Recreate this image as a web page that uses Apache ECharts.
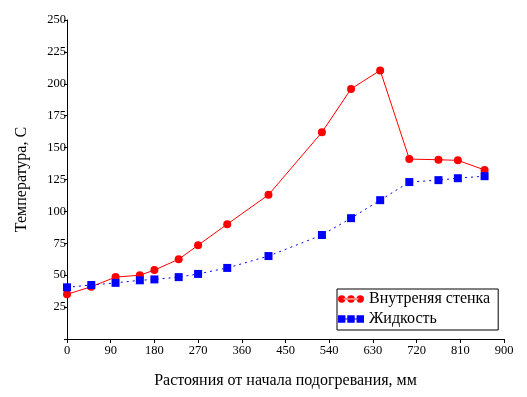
<!DOCTYPE html>
<html>
<head>
<meta charset="utf-8">
<script src="https://cdn.jsdelivr.net/npm/echarts@6/dist/echarts.min.js"></script>
<style>
  html, body { margin: 0; padding: 0; background: #fff; }
  #chart { width: 527px; height: 397px; }
</style>
</head>
<body>
<div id="chart"></div>
<script>
const distances = [0, 50, 100, 150, 180, 230, 270, 330, 415, 525, 585, 645, 705, 765, 805, 860]
const wallTemp = [35, 41, 48.5, 50, 54, 62.5, 73.5, 90, 113, 162, 196, 210.5, 141, 140.5, 140, 132.5]
const liquidTemp = [40.5, 42.3, 44, 46, 46.7, 48.5, 51, 55.7, 65, 81.5, 94.7, 108.8, 123, 124.5, 126, 127.6]

const seriesNames = ["Внутреняя стенка", "Жидкость"]
const font = "Liberation Serif"

// legend icons: three markers joined by a line
const dotsIcon = "path://M0,4a4,4 0 1,0 8,0a4,4 0 1,0 -8,0z M10,4a4,4 0 1,0 8,0a4,4 0 1,0 -8,0z M20,4a4,4 0 1,0 8,0a4,4 0 1,0 -8,0z M6,3.5h16v1h-16z"
const squaresIcon = "path://M0,0h8v8h-8z M10,0h8v8h-8z M20,0h8v8h-8z M7,3.5h14v1h-14z"

const toPairs = (ys) => distances.map((x, i) => [x, ys[i]])

let chart = echarts.init(document.getElementById("chart"));
chart.setOption({
  animation: false,
  backgroundColor: "#fff",
  textStyle: { fontFamily: font, color: "#000" },
  grid: {
    left: 67,
    right: 23,
    top: 20,
    bottom: 58,
  },
  legend: {
    orient: "vertical",
    left: 337,
    top: 289,
    backgroundColor: "#fff",
    borderColor: "#000",
    borderWidth: 1,
    borderRadius: 0,
    padding: [2, 8, 3, 1],
    itemGap: 4,
    itemWidth: 26,
    itemHeight: 8,
    textStyle: { fontFamily: font, fontSize: 16, color: "#000" },
    data: [
      { name: seriesNames[0], icon: dotsIcon },
      { name: seriesNames[1], icon: squaresIcon },
    ],
  },
  xAxis: {
    type: "value",
    min: 0,
    max: 900,
    interval: 90,
    name: "Растояния от начала подогревания, мм",
    nameLocation: "middle",
    nameGap: 34,
    nameTextStyle: { fontFamily: font, fontSize: 16, color: "#000" },
    axisLine: { lineStyle: { color: "#000", width: 1 } },
    axisTick: { length: 4, lineStyle: { color: "#000" } },
    axisLabel: { fontFamily: font, fontSize: 12.5, color: "#000", margin: 5 },
    splitLine: { show: false },
  },
  yAxis: {
    type: "value",
    min: 0,
    max: 250,
    interval: 25,
    name: "Температура, C",
    nameLocation: "middle",
    nameGap: 37,
    nameTextStyle: { fontFamily: font, fontSize: 16, color: "#000" },
    axisLine: { show: true, lineStyle: { color: "#000", width: 1 } },
    axisTick: { show: true, length: 3, lineStyle: { color: "#000" } },
    axisLabel: {
      fontFamily: font,
      fontSize: 12.5,
      color: "#000",
      margin: 1,
      formatter: (v) => (v === 0 ? "" : String(v)),
    },
    splitLine: { show: false },
  },
  series: [
    {
      name: seriesNames[0],
      type: "line",
      data: toPairs(wallTemp),
      symbol: "circle",
      symbolSize: 8,
      itemStyle: { color: "#ff0000" },
      lineStyle: { color: "#ff0000", width: 1 },
      z: 2,
    },
    {
      name: seriesNames[1],
      type: "line",
      data: toPairs(liquidTemp),
      symbol: "rect",
      symbolSize: 8,
      itemStyle: { color: "#0000ff" },
      lineStyle: { color: "#0000ff", width: 1, type: [2, 4] },
      z: 3,
    },
  ],
});
</script>
</body>
</html>
